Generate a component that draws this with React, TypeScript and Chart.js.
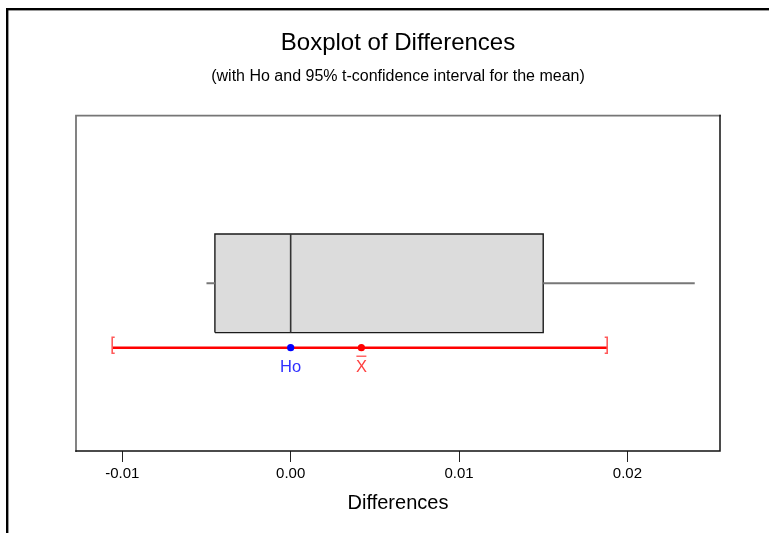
import React, { useEffect, useRef } from 'react';
import { Chart, registerables } from 'chart.js';

Chart.register(...registerables);

// ---- data ----
const summaryLabels = ['Minimum', 'Q1', 'Median', 'Q3', 'Maximum'];
const summaryValues = [-0.005, -0.0045, 0.0, 0.015, 0.024];
const ciLabels = ['Lower 95% CI', 'Upper 95% CI'];
const ciValues = [-0.0106, 0.0188];
const meanValue = 0.0042;
const hoValue = 0.0;
const tickValues = [-0.01, 0.0, 0.01, 0.02];
const tickLabels = ['-0.01', '0.00', '0.01', '0.02'];
const axisRange = [-0.01275, 0.0255];

// ---- layout (levels on a hidden 0..1 vertical scale) ----
const BOX_CENTER = 0.5;
const BOX_HALF = 0.147;
const CI_LEVEL = 0.308;

const FONT = "'Liberation Sans', Arial, sans-serif";

const framePlugin = {
  id: 'frames',
  beforeDraw(chart: any) {
    const { ctx, width, height } = chart;
    ctx.save();
    ctx.fillStyle = '#ffffff';
    ctx.fillRect(0, 0, width, height);
    ctx.fillStyle = '#000000';
    ctx.fillRect(6, 8, width - 6, 2.4);
    ctx.fillRect(6, 8, 2.4, height - 8);
    ctx.restore();
  },
  afterDraw(chart: any) {
    const { ctx, chartArea: a } = chart;
    ctx.save();
    ctx.lineCap = 'square';
    ctx.strokeStyle = '#767676';
    ctx.lineWidth = 1.8;
    ctx.beginPath();
    ctx.moveTo(a.left, a.bottom);
    ctx.lineTo(a.left, a.top);
    ctx.lineTo(a.right, a.top);
    ctx.stroke();
    ctx.strokeStyle = '#111111';
    ctx.lineWidth = 1.5;
    ctx.beginPath();
    ctx.moveTo(a.right, a.top);
    ctx.lineTo(a.right, a.bottom);
    ctx.lineTo(a.left, a.bottom);
    ctx.stroke();
    ctx.restore();
  },
};

const annotatePlugin = {
  id: 'annotate',
  afterDatasetsDraw(chart: any) {
    const { ctx } = chart;
    ctx.save();
    // CI brackets
    const ciMeta = chart.getDatasetMeta(2);
    const p0 = ciMeta.data[0];
    const p1 = ciMeta.data[1];
    ctx.strokeStyle = '#ff5a5a';
    ctx.lineWidth = 1.6;
    const top = p0.y - 10.5;
    const bot = p0.y + 5.5;
    ctx.beginPath();
    ctx.moveTo(p0.x + 2.5, top);
    ctx.lineTo(p0.x, top);
    ctx.lineTo(p0.x, bot);
    ctx.lineTo(p0.x + 2.5, bot);
    ctx.moveTo(p1.x - 2.5, top);
    ctx.lineTo(p1.x, top);
    ctx.lineTo(p1.x, bot);
    ctx.lineTo(p1.x - 2.5, bot);
    ctx.stroke();

    // labels under the points
    ctx.font = `16.5px ${FONT}`;
    ctx.textAlign = 'center';
    ctx.textBaseline = 'middle';
    const ho = chart.getDatasetMeta(0).data[0];
    ctx.fillStyle = '#3030ff';
    ctx.fillText('Ho', ho.x, ho.y + 20);
    const mn = chart.getDatasetMeta(1).data[0];
    ctx.fillStyle = '#ff4040';
    ctx.fillText('X', mn.x, mn.y + 20);
    ctx.strokeStyle = '#ff4040';
    ctx.lineWidth = 1.2;
    ctx.beginPath();
    ctx.moveTo(mn.x - 5, mn.y + 8.5);
    ctx.lineTo(mn.x + 5, mn.y + 8.5);
    ctx.stroke();
    ctx.restore();
  },
};

export default function App() {
  const ref = useRef<HTMLCanvasElement | null>(null);

  useEffect(() => {
    if (!ref.current) return;
    const [vMin, q1, med, q3, vMax] = summaryValues;
    const boxTop = BOX_CENTER + BOX_HALF;
    const boxBot = BOX_CENTER - BOX_HALF;

    const line = (extra: any) => ({
      type: 'line',
      pointRadius: 0,
      pointHoverRadius: 0,
      fill: false,
      tension: 0,
      ...extra,
    });

    const chart = new Chart(ref.current, {
      type: 'line',
      data: {
        datasets: [
          line({
            label: 'Ho',
            data: [{ x: hoValue, y: CI_LEVEL }],
            showLine: false,
            pointRadius: 3.6,
            pointBackgroundColor: '#0000ff',
            pointBorderColor: '#0000ff',
            pointBorderWidth: 0,
          }),
          line({
            label: 'Mean',
            data: [{ x: meanValue, y: CI_LEVEL }],
            showLine: false,
            pointRadius: 3.6,
            pointBackgroundColor: '#ff0000',
            pointBorderColor: '#ff0000',
            pointBorderWidth: 0,
          }),
          line({
            label: ciLabels.join(' / '),
            data: ciValues.map((v) => ({ x: v, y: CI_LEVEL })),
            borderColor: '#ff0000',
            borderWidth: 2.6,
          }),
          line({
            label: summaryLabels[2],
            data: [
              { x: med, y: boxBot },
              { x: med, y: boxTop },
            ],
            borderColor: '#333333',
            borderWidth: 1.6,
          }),
          line({
            label: summaryLabels[0],
            data: [
              { x: vMin, y: BOX_CENTER },
              { x: q1, y: BOX_CENTER },
            ],
            borderColor: '#777777',
            borderWidth: 2,
          }),
          line({
            label: summaryLabels[4],
            data: [
              { x: q3, y: BOX_CENTER },
              { x: vMax, y: BOX_CENTER },
            ],
            borderColor: '#777777',
            borderWidth: 2,
          }),
          line({
            label: 'Box',
            data: [
              { x: q1, y: boxBot },
              { x: q3, y: boxBot },
              { x: q3, y: boxTop },
              { x: q1, y: boxTop },
              { x: q1, y: boxBot },
            ],
            borderColor: '#1a1a1a',
            borderWidth: 1.4,
            backgroundColor: '#dcdcdc',
            fill: 'shape',
          }),
        ] as any,
      },
      options: {
        animation: false,
        responsive: false,
        events: [],
        layout: { padding: { left: 76, right: 49, top: 0, bottom: 17.6 } },
        plugins: {
          legend: { display: false },
          tooltip: { enabled: false },
          title: {
            display: true,
            text: 'Boxplot of Differences',
            color: '#000000',
            font: { family: FONT, size: 24, weight: 'normal', lineHeight: 1.2 },
            padding: { top: 29.4, bottom: 0 },
          },
          subtitle: {
            display: true,
            text: '(with Ho and 95% t-confidence interval for the mean)',
            color: '#000000',
            font: { family: FONT, size: 16, weight: 'normal', lineHeight: 1.2 },
            padding: { top: 9.2, bottom: 29.0 },
          },
        },
        scales: {
          x: {
            type: 'linear',
            min: axisRange[0],
            max: axisRange[1],
            afterBuildTicks: (scale: any) => {
              scale.ticks = tickValues.map((v) => ({ value: v }));
            },
            ticks: {
              autoSkip: false,
              maxRotation: 0,
              padding: 3,
              color: '#000000',
              font: { family: FONT, size: 15 },
              callback: (_v: any, i: number) => tickLabels[i],
            },
            grid: {
              drawOnChartArea: false,
              drawTicks: true,
              tickLength: 11,
              color: '#222222',
              lineWidth: 1,
            },
            border: { display: false },
            title: {
              display: true,
              text: 'Differences',
              color: '#000000',
              font: { family: FONT, size: 20, weight: 'normal', lineHeight: 1.2 },
              padding: { top: 5.4, bottom: 0 },
            },
          },
          y: {
            type: 'linear',
            display: false,
            min: 0,
            max: 1,
          },
        },
      } as any,
      plugins: [framePlugin, annotatePlugin],
    });
    return () => chart.destroy();
  }, []);

  return (
    <div style={{ position: 'fixed', left: 0, top: 0, width: 769, height: 533, background: '#fff' }}>
      <canvas ref={ref} width={769} height={533} style={{ display: 'block' }} />
    </div>
  );
}
